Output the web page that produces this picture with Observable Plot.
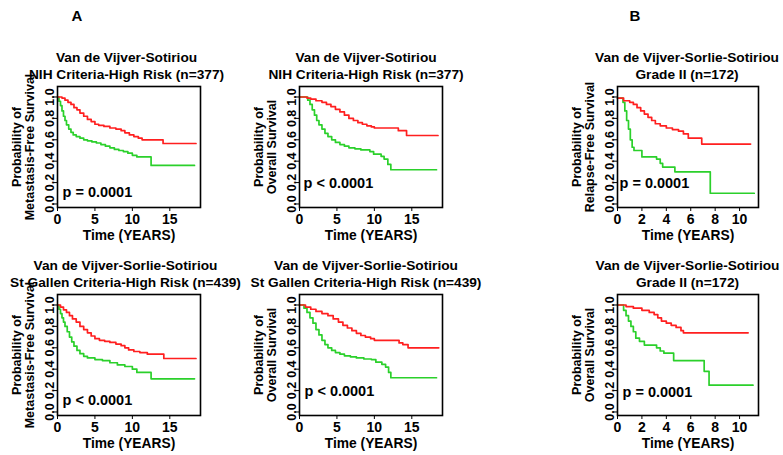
<!DOCTYPE html>
<html><head><meta charset="utf-8">
<script src="https://cdn.jsdelivr.net/npm/d3@7"></script>
<script src="https://cdn.jsdelivr.net/npm/@observablehq/plot@0.6"></script>
<style>
html,body{margin:0;padding:0;background:#fff;}
#wrap{position:relative;width:783px;height:455px;overflow:hidden;font-family:"Liberation Sans",Arial,Helvetica,sans-serif;font-weight:bold;color:#000;}
#wrap svg{position:absolute;left:0;top:0;}
.letter{position:absolute;font-family:"Liberation Sans Narrow","Liberation Sans",Arial,sans-serif;font-size:15px;font-weight:bold;transform:translate(-50%,-50%);line-height:1;}
</style></head><body><div id="wrap"></div>
<script>
// ---------- data ----------
const panelLetters = ["A", "B"];
const xLabel = "Time (YEARS)";
const yTicks = [0, 0.2, 0.4, 0.6, 0.8, 1.0];
const xTicksLong = [0, 5, 10, 15];
const xTicksShort = [0, 2, 4, 6, 8, 10];

const titles = [
  "Van de Vijver-Sotiriou\nNIH Criteria-High Risk (n=377)",
  "Van de Vijver-Sotiriou\nNIH Criteria-High Risk (n=377)",
  "Van de Vijver-Sorlie-Sotiriou\nGrade II (n=172)",
  "Van de Vijver-Sorlie-Sotiriou\nSt Gallen Criteria-High Risk (n=439)",
  "Van de Vijver-Sorlie-Sotiriou\nSt Gallen Criteria-High Risk (n=439)",
  "Van de Vijver-Sorlie-Sotiriou\nGrade II (n=172)"
];
const yLabels = [
  "Probability of\nMetastasis-Free Survival",
  "Probability of\nOverall Survival",
  "Probability of\nRelapse-Free Survival",
  "Probability of\nMetastasis-Free Survival",
  "Probability of\nOverall Survival",
  "Probability of\nOverall Survival"
];
const pValues = ["p = 0.0001", "p < 0.0001", "p = 0.0001", "p < 0.0001", "p < 0.0001", "p = 0.0001"];

// Panel 1: MFS, NIH criteria
const p1RedT = [0, 0.6, 1.0, 1.4, 1.8, 2.2, 2.6, 3.0, 3.5, 4.0, 4.5, 5.0, 5.5, 6.2, 7.0, 7.8, 8.5, 9.0, 9.6, 10.2, 10.8, 11.3, 14.1, 18.5];
const p1RedS = [1.0, 0.99, 0.97, 0.95, 0.93, 0.90, 0.88, 0.85, 0.82, 0.79, 0.77, 0.745, 0.735, 0.725, 0.71, 0.70, 0.685, 0.665, 0.645, 0.63, 0.615, 0.60, 0.565, 0.565];
const p1GreenT = [0, 0.2, 0.4, 0.6, 0.8, 1.0, 1.2, 1.5, 1.8, 2.1, 2.5, 3.0, 3.5, 4.0, 4.6, 5.2, 5.8, 6.4, 7.0, 7.6, 8.2, 8.8, 9.4, 10.0, 10.6, 12.5, 18.3];
const p1GreenS = [1.0, 0.96, 0.92, 0.87, 0.82, 0.78, 0.74, 0.70, 0.67, 0.645, 0.63, 0.615, 0.60, 0.59, 0.58, 0.57, 0.555, 0.54, 0.525, 0.51, 0.50, 0.49, 0.475, 0.455, 0.44, 0.36, 0.36];
// Panel 2: OS, NIH criteria
const p2RedT = [0, 1.0, 1.5, 2.2, 3.0, 3.6, 4.2, 4.8, 5.4, 6.0, 6.6, 7.2, 7.8, 8.4, 9.0, 9.6, 10.0, 13.2, 14.3, 18.5];
const p2RedS = [1.0, 0.99, 0.98, 0.965, 0.95, 0.93, 0.91, 0.885, 0.86, 0.83, 0.80, 0.78, 0.76, 0.745, 0.73, 0.72, 0.71, 0.685, 0.64, 0.64];
const p2GreenT = [0, 1.1, 1.4, 1.7, 2.0, 2.3, 2.6, 3.0, 3.4, 3.8, 4.3, 4.8, 5.4, 6.0, 6.6, 7.4, 8.2, 9.4, 9.9, 10.9, 11.3, 11.8, 12.2, 18.3];
const p2GreenS = [1.0, 0.97, 0.93, 0.88, 0.83, 0.78, 0.74, 0.70, 0.66, 0.63, 0.60, 0.575, 0.555, 0.54, 0.525, 0.515, 0.505, 0.49, 0.465, 0.445, 0.42, 0.37, 0.32, 0.32];
// Panel 3: RFS, Grade II
const p3RedT = [0, 0.5, 1.0, 1.3, 1.6, 1.9, 2.2, 2.5, 2.8, 3.1, 3.5, 4.0, 4.5, 5.0, 5.4, 5.8, 6.9, 10.9];
const p3RedS = [0.99, 0.965, 0.95, 0.93, 0.90, 0.87, 0.84, 0.81, 0.78, 0.75, 0.73, 0.71, 0.695, 0.68, 0.655, 0.615, 0.56, 0.56];
const p3GreenT = [0, 0.45, 0.6, 0.75, 0.9, 1.05, 1.2, 1.35, 2.0, 3.2, 3.5, 3.7, 4.7, 7.6, 11.2];
const p3GreenS = [0.99, 0.95, 0.87, 0.78, 0.70, 0.60, 0.53, 0.50, 0.44, 0.42, 0.38, 0.345, 0.30, 0.10, 0.10];
// Panel 4: MFS, St Gallen criteria
const p4RedT = [0, 0.4, 0.8, 1.2, 1.6, 2.0, 2.5, 3.0, 3.5, 4.0, 4.5, 5.0, 5.6, 6.3, 7.0, 7.8, 8.5, 9.0, 9.5, 10.2, 11.0, 12.0, 14.2, 18.5];
const p4RedS = [1.0, 0.98, 0.955, 0.93, 0.90, 0.87, 0.84, 0.80, 0.77, 0.74, 0.71, 0.685, 0.67, 0.66, 0.65, 0.635, 0.62, 0.60, 0.58, 0.565, 0.555, 0.54, 0.50, 0.50];
const p4GreenT = [0, 0.2, 0.4, 0.6, 0.8, 1.0, 1.3, 1.6, 1.9, 2.2, 2.6, 3.0, 3.5, 4.0, 5.0, 6.0, 7.0, 8.0, 9.0, 10.0, 10.6, 12.5, 18.3];
const p4GreenS = [1.0, 0.96, 0.92, 0.88, 0.84, 0.80, 0.75, 0.70, 0.655, 0.615, 0.575, 0.545, 0.52, 0.505, 0.49, 0.48, 0.46, 0.44, 0.425, 0.40, 0.37, 0.31, 0.31];
// Panel 5: OS, St Gallen criteria
const p5RedT = [0, 0.8, 1.5, 2.2, 3.0, 3.8, 4.5, 5.2, 5.8, 6.4, 7.0, 7.6, 8.2, 8.8, 9.5, 10.0, 13.3, 13.8, 14.5, 18.6];
const p5RedS = [1.0, 0.98, 0.96, 0.94, 0.92, 0.90, 0.87, 0.84, 0.81, 0.785, 0.76, 0.735, 0.715, 0.70, 0.685, 0.67, 0.645, 0.63, 0.60, 0.60];
const p5GreenT = [0, 0.6, 1.0, 1.4, 1.8, 2.2, 2.6, 3.0, 3.4, 3.8, 4.3, 4.8, 5.4, 6.0, 6.8, 7.6, 8.6, 9.6, 10.2, 11.0, 11.5, 11.9, 12.2, 18.3];
const p5GreenS = [1.0, 0.97, 0.93, 0.88, 0.83, 0.77, 0.72, 0.67, 0.63, 0.60, 0.575, 0.555, 0.54, 0.525, 0.515, 0.505, 0.495, 0.49, 0.465, 0.445, 0.42, 0.37, 0.32, 0.32];
// Panel 6: OS, Grade II
const p6RedT = [0, 0.7, 1.3, 2.0, 2.6, 3.0, 3.3, 3.6, 4.0, 4.4, 4.8, 5.2, 5.4, 10.7];
const p6RedS = [1.0, 0.985, 0.97, 0.95, 0.93, 0.91, 0.88, 0.85, 0.83, 0.81, 0.79, 0.76, 0.74, 0.74];
const p6GreenT = [0, 0.5, 0.7, 0.9, 1.1, 1.3, 1.5, 1.8, 2.2, 3.2, 3.5, 3.8, 4.6, 7.1, 7.5, 11.1];
const p6GreenS = [1.0, 0.95, 0.90, 0.85, 0.80, 0.75, 0.69, 0.66, 0.625, 0.60, 0.57, 0.55, 0.48, 0.38, 0.25, 0.25];

// ---------- layout / style ----------
const W = 783, H = 455;
const RED = "#ff1f1f", GREEN = "#2bd02b";
const FONT = '"Liberation Sans", Arial, Helvetica, sans-serif';
const yDomain = [-0.033, 1.098];
const layout = [
  {box: [57, 200, 86, 207], xmax: 19.1, xt: xTicksLong, tdx: -2.5, pdx: 5, pdy: -15},
  {box: [299, 442, 86, 207], xmax: 19.1, xt: xTicksLong, tdx: -5, pdx: 4, pdy: -24},
  {box: [617, 758, 86, 207], xmax: 11.55, xt: xTicksShort, tdx: -1, pdx: 2, pdy: -24},
  {box: [57, 200, 294, 415], xmax: 19.1, xt: xTicksLong, tdx: -3.5, pdx: 5, pdy: -15},
  {box: [299, 442, 294, 415], xmax: 19.1, xt: xTicksLong, tdx: -5, pdx: 5, pdy: -24},
  {box: [617, 758, 294, 415], xmax: 11.55, xt: xTicksShort, tdx: -0.5, pdx: 5, pdy: -23}
];
const series = [
  [p1RedT, p1RedS, p1GreenT, p1GreenS],
  [p2RedT, p2RedS, p2GreenT, p2GreenS],
  [p3RedT, p3RedS, p3GreenT, p3GreenS],
  [p4RedT, p4RedS, p4GreenT, p4GreenS],
  [p5RedT, p5RedS, p5GreenT, p5GreenS],
  [p6RedT, p6RedS, p6GreenT, p6GreenS]
];
const zip = (T, S) => T.map((t, i) => ({t, s: S[i]}));

const wrap = document.getElementById("wrap");
layout.forEach((cfg, i) => {
  const [l, r, t, b] = cfg.box;
  const [rt, rs, gt, gs] = series[i];
  const plot = Plot.plot({
    width: W, height: H,
    marginLeft: l, marginRight: W - r, marginTop: t, marginBottom: H - b,
    style: {fontFamily: FONT, fontSize: "13px", fontWeight: "bold", background: "transparent", overflow: "visible", color: "#000"},
    x: {domain: [0, cfg.xmax]},
    y: {domain: yDomain},
    marks: [
      Plot.axisX({ticks: cfg.xt, tickSize: 4, tickPadding: 3, label: null, fontSize: 14}),
      Plot.axisY({ticks: yTicks, tickFormat: d => d.toFixed(1), tickRotate: -90, tickSize: 4, tickPadding: 0, label: null, fontSize: 12.5}),
      Plot.line(zip(gt, gs), {x: "t", y: "s", curve: "step-after", stroke: GREEN, strokeWidth: 1.7}),
      Plot.line(zip(rt, rs), {x: "t", y: "s", curve: "step-after", stroke: RED, strokeWidth: 1.7}),
      Plot.frame({stroke: "#000", strokeWidth: 1.6}),
      Plot.text([titles[i]], {text: d => d, frameAnchor: "top", dx: cfg.tdx, dy: -7.5, lineAnchor: "bottom", lineHeight: 1.22, fontSize: 13.7}),
      Plot.text([yLabels[i]], {text: d => d, frameAnchor: "left", dx: -34.5, rotate: -90, textAnchor: "middle", lineAnchor: "middle", lineHeight: 1.05, fontSize: 12.5}),
      Plot.text([xLabel], {text: d => d, frameAnchor: "bottom", dy: 28.5, lineAnchor: "middle", fontSize: 13.8}),
      Plot.text([pValues[i]], {text: d => d, frameAnchor: "bottom-left", dx: cfg.pdx, dy: cfg.pdy, textAnchor: "start", lineAnchor: "middle", fontSize: 14.5})
    ]
  });
  wrap.appendChild(plot);
});

const letterPos = [[77, 15], [635, 15]];
panelLetters.forEach((L, i) => {
  const d = document.createElement("div");
  d.className = "letter";
  d.textContent = L;
  d.style.left = letterPos[i][0] + "px";
  d.style.top = letterPos[i][1] + "px";
  wrap.appendChild(d);
});
</script></body></html>
